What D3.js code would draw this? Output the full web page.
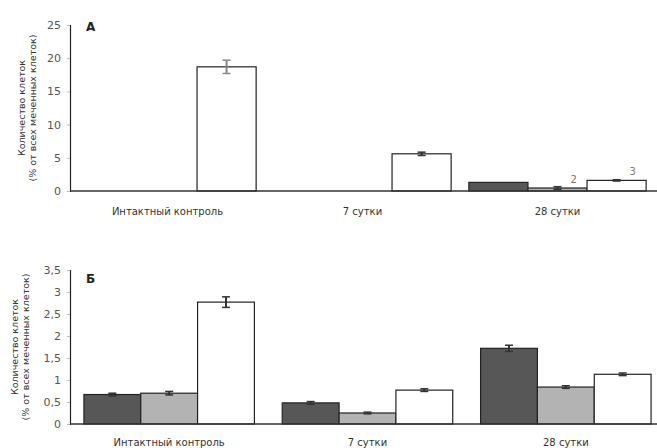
<!DOCTYPE html>
<html>
<head>
<meta charset="utf-8">
<script src="https://cdn.jsdelivr.net/npm/d3@7"></script>
<style>
  body { margin: 0; background: #fff; }
  text { font-family: 'DejaVu Sans', sans-serif; }
</style>
</head>
<body>
<svg id="chart" width="657" height="448"></svg>
<script>
// data
var categories = ['Интактный контроль', '7 сутки', '28 сутки']
var seriesNames = ['1', '2', '3']

var valuesA = [[0, 0, 1.3], [0, 0, 0.45], [18.7, 5.6, 1.6]]
var errorsA = [[0, 0, 0], [0, 0, 0.2], [1.0, 0.25, 0.1]]
var ticksA = [0, 5, 10, 15, 20, 25]

var valuesB = [[0.67, 0.48, 1.72], [0.7, 0.25, 0.84], [2.77, 0.77, 1.13]]
var errorsB = [[0.03, 0.03, 0.07], [0.04, 0.02, 0.03], [0.12, 0.03, 0.03]]
var ticksB = [0, 0.5, 1, 1.5, 2, 2.5, 3, 3.5]

var colors = ['#575757', '#b3b3b3', '#ffffff']

var svg = d3.select('#chart')

// one panel: letter, axes, grouped bars with error bars
function drawPanel(opts) {
  var g = svg.append('g')

  var x0 = d3.scaleBand().domain(categories).range([opts.x0, opts.x1]).paddingInner(0).paddingOuter(0)
  var x1 = d3.scaleBand().domain(seriesNames).range([0, x0.bandwidth()]).paddingOuter(opts.pad)
  var y = d3.scaleLinear().domain([0, opts.max]).range([opts.bottom, opts.top])

  // y axis
  var yAxis = d3.axisLeft(y).tickValues(opts.ticks).tickSize(3).tickPadding(6)
    .tickFormat(function(d) { return String(d).replace('.', ',') })
  var ya = g.append('g').attr('transform', 'translate(' + opts.x0 + ',0)').call(yAxis)
  ya.select('.domain').attr('stroke', '#222').attr('stroke-width', 1.2)
  ya.selectAll('.tick line').attr('stroke', '#bbb')
  ya.selectAll('.tick text').attr('font-size', 11).attr('fill', '#555')

  // bars
  seriesNames.forEach(function(s, si) {
    categories.forEach(function(c, ci) {
      var v = opts.values[si][ci]
      if (v <= 0) return
      g.append('rect')
        .attr('x', x0(c) + x1(s))
        .attr('y', y(v))
        .attr('width', x1.bandwidth())
        .attr('height', y(0) - y(v))
        .attr('fill', colors[si])
        .attr('stroke', '#222')
        .attr('stroke-width', 1.2)
    })
  })

  // error bars
  seriesNames.forEach(function(s, si) {
    categories.forEach(function(c, ci) {
      var v = opts.values[si][ci]
      var e = opts.errors[si][ci]
      if (v <= 0 || e <= 0) return
      var cx = x0(c) + x1(s) + x1.bandwidth() / 2
      var col = si === 2 && opts.letter === 'А' && ci === 0 ? '#888' : '#333'
      g.append('line')
        .attr('x1', cx).attr('x2', cx)
        .attr('y1', y(v + e)).attr('y2', y(v - e))
        .attr('stroke', col).attr('stroke-width', 2)
      ;[v + e, v - e].forEach(function(t) {
        g.append('line')
          .attr('x1', cx - 4).attr('x2', cx + 4)
          .attr('y1', y(t)).attr('y2', y(t))
          .attr('stroke', col).attr('stroke-width', 1.5)
      })
    })
  })

  // x axis baseline
  g.append('line')
    .attr('x1', opts.x0).attr('x2', 657)
    .attr('y1', y(0)).attr('y2', y(0))
    .attr('stroke', '#333').attr('stroke-width', 1.5)

  // category labels
  g.selectAll('.cat')
    .data(categories)
    .enter()
    .append('text')
    .attr('x', function(d) { return x0(d) + x0.bandwidth() / 2 })
    .attr('y', opts.labelY)
    .attr('text-anchor', 'middle')
    .attr('font-size', 10)
    .attr('fill', '#333')
    .text(function(d) { return d })

  // panel letter
  g.append('text')
    .attr('x', 86).attr('y', opts.letterY)
    .attr('font-size', 12).attr('font-weight', 'bold').attr('fill', '#222')
    .text(opts.letter)

  // y title, two rotated lines
  var mid = (opts.top + opts.bottom) / 2
  var title = g.append('text')
    .attr('transform', 'translate(' + opts.titleX + ',' + mid + ') rotate(-90)')
    .attr('text-anchor', 'middle')
    .attr('font-size', 9.5)
    .attr('fill', '#333')
  title.append('tspan').attr('x', 0).attr('dy', 0).text('Количество клеток')
  title.append('tspan').attr('x', 0).attr('dy', '1.15em').text('(% от всех меченных клеток)')

  return { x0: x0, x1: x1, y: y }
}

var panelA = drawPanel({
  letter: 'А', values: valuesA, errors: errorsA, ticks: ticksA, max: 25,
  x0: 70, x1: 655, top: 25, bottom: 191, pad: 0.15,
  labelY: 215, letterY: 31, titleX: 25
})

// series numbers next to the small bars in panel A
var cLast = categories[2]
;[1, 2].forEach(function(si) {
  var v = valuesA[si][2]
  svg.append('text')
    .attr('x', panelA.x0(cLast) + panelA.x1(seriesNames[si]) + panelA.x1.bandwidth() * 0.72)
    .attr('y', panelA.y(v) - 5)
    .attr('font-size', 10)
    .attr('fill', '#777')
    .text(seriesNames[si])
})

drawPanel({
  letter: 'Б', values: valuesB, errors: errorsB, ticks: ticksB, max: 3.5,
  x0: 70, x1: 665, top: 270, bottom: 424, pad: 0.245,
  labelY: 446, letterY: 283, titleX: 18
})
</script>
</body>
</html>
